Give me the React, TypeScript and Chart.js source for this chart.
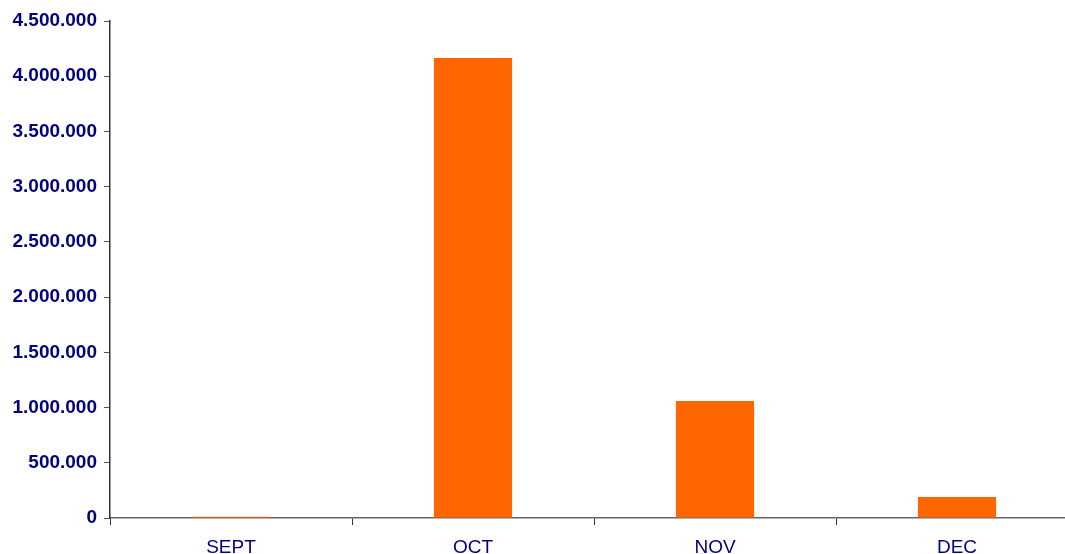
import React, { useEffect, useRef } from "react";
import { Chart, registerables } from "chart.js";

Chart.register(...registerables);

const categories = ["SEPT", "OCT", "NOV", "DEC"];
const values = [12000, 4165000, 1060000, 190000];
const yMax = 4500000;
const yStep = 500000;

const fmt = (v: number) => String(Math.round(v)).replace(/\B(?=(\d{3})+(?!\d))/g, ".");

export default function App() {
  const ref = useRef<HTMLCanvasElement | null>(null);
  useEffect(() => {
    if (!ref.current) return;
    const chart = new Chart(ref.current, {
      type: "bar",
      data: {
        labels: categories,
        datasets: [
          {
            data: values,
            backgroundColor: "#FF6600",
            borderWidth: 0,
            barPercentage: 1,
            categoryPercentage: 0.323,
          },
        ],
      },
      options: {
        responsive: false,
        animation: false,
        maintainAspectRatio: false,
        layout: { padding: { top: 21, right: 12, left: 0, bottom: 0 } },
        plugins: { legend: { display: false }, tooltip: { enabled: false } },
        scales: {
          x: {
            grid: {
              display: true,
              drawOnChartArea: false,
              drawTicks: true,
              tickLength: 7,
              color: "#333",
              offset: true,
            },
            border: { display: true, color: "#666", width: 1.5 },
            ticks: {
              color: "#000080",
              font: { family: "Liberation Sans, Arial, sans-serif", size: 19 },
              padding: 11,
              maxRotation: 0,
            },
            afterFit: (s: any) => {
              s.height = 36;
            },
          },
          y: {
            min: 0,
            max: yMax,
            grid: {
              display: true,
              drawOnChartArea: false,
              drawTicks: true,
              tickLength: 6,
              color: "#555",
            },
            border: { display: true, color: "#333", width: 1.5 },
            ticks: {
              stepSize: yStep,
              color: "#000080",
              font: { family: "Liberation Sans, Arial, sans-serif", size: 19, weight: "bold" },
              padding: 7,
              callback: (v: any) => fmt(Number(v)),
            },
            afterFit: (s: any) => {
              s.width = 110;
            },
          },
        },
      },
    });
    return () => chart.destroy();
  }, []);
  return (
    <div
      style={{
        position: "fixed",
        left: 0,
        top: 0,
        width: 1065,
        height: 554,
        overflow: "hidden",
        background: "#fff",
      }}
    >
      <canvas ref={ref} width={1090} height={554} style={{ width: 1090, height: 554, display: "block" }} />
    </div>
  );
}
